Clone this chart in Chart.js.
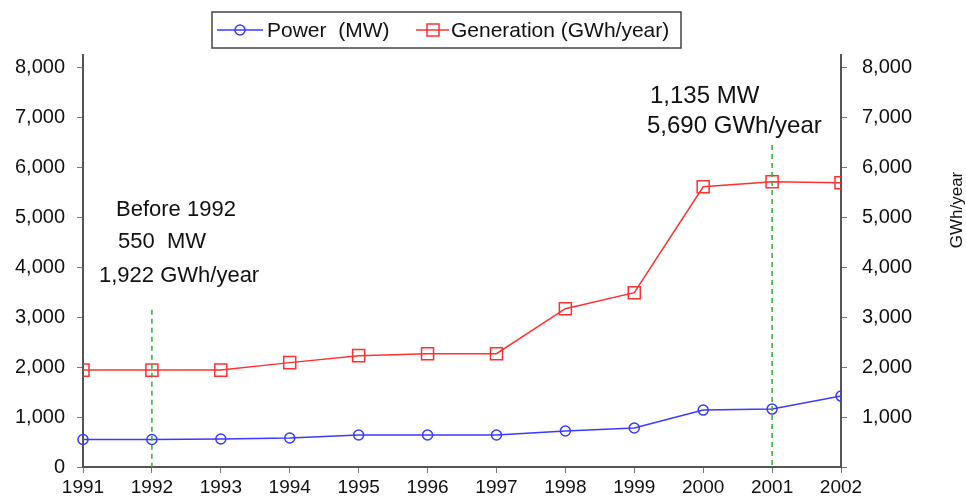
<!DOCTYPE html>
<html>
<head>
<meta charset="utf-8">
<script src="https://cdn.jsdelivr.net/npm/chart.js@4/dist/chart.umd.min.js"></script>
<style>
  html, body { margin: 0; padding: 0; background: #fff; }
  #wrap { width: 966px; height: 497px; }
</style>
</head>
<body>
<div id="wrap"><canvas id="windChart" width="966" height="497"></canvas></div>
<script>
const years = ['1991', '1992', '1993', '1994', '1995', '1996', '1997', '1998', '1999', '2000', '2001', '2002'];
const powerMW = [550, 550, 560, 580, 640, 640, 640, 720, 780, 1140, 1160, 1420];
const generationGWh = [1940, 1940, 1940, 2090, 2230, 2270, 2270, 3170, 3490, 5610, 5710, 5690];
const yTickValues = [0, 1000, 2000, 3000, 4000, 5000, 6000, 7000, 8000];
const markerYears = ['1992', '2001'];
const markerTops = [3150, 6450];

const FONT = '"Liberation Sans", Arial, sans-serif';
const BLUE = '#3a3aff';
const RED = '#ff3030';

function fmt(v) { return Number(v).toLocaleString('en-US'); }
function keepTicks(scale) {
    scale.ticks = yTickValues.map(v => ({ value: v }));
}

// legend box, notes and the green marker lines
const extras = {
    id: 'extras',
    afterDatasetsDraw(chart) {
        const ctx = chart.ctx;
        const x = chart.scales.x, y = chart.scales.y;
        ctx.save();
        ctx.strokeStyle = '#2fae2f';
        ctx.lineWidth = 1.5;
        ctx.setLineDash([5, 4]);
        markerYears.forEach((yr, i) => {
            const px = x.getPixelForValue(years.indexOf(yr));
            ctx.beginPath();
            ctx.moveTo(px, y.getPixelForValue(markerTops[i]));
            ctx.lineTo(px, y.getPixelForValue(0));
            ctx.stroke();
        });
        ctx.restore();
    },
    afterDraw(chart) {
        const ctx = chart.ctx;
        ctx.save();
        // legend
        ctx.strokeStyle = '#444';
        ctx.lineWidth = 1.5;
        ctx.strokeRect(212, 12, 469, 36);
        ctx.strokeStyle = BLUE;
        ctx.beginPath(); ctx.moveTo(217, 30); ctx.lineTo(263, 30); ctx.stroke();
        ctx.beginPath(); ctx.arc(240, 30, 5, 0, Math.PI * 2); ctx.stroke();
        ctx.strokeStyle = RED;
        ctx.beginPath(); ctx.moveTo(416, 30); ctx.lineTo(449, 30); ctx.stroke();
        ctx.strokeRect(427, 24, 12, 12);
        ctx.fillStyle = '#111';
        ctx.font = '21px ' + FONT;
        ctx.textBaseline = 'middle';
        ctx.fillText('Power  (MW)', 267, 31);
        ctx.fillText('Generation (GWh/year)', 451, 31);

        // notes
        ctx.textBaseline = 'alphabetic';
        ctx.font = '22px ' + FONT;
        ctx.fillText('Before 1992', 116, 216);
        ctx.fillText('550  MW', 118, 248);
        ctx.fillText('1,922 GWh/year', 99, 282);
        ctx.font = '24px ' + FONT;
        ctx.fillText('1,135 MW', 650, 103);
        ctx.fillText('5,690 GWh/year', 647, 133);

        // right axis title
        ctx.font = '17px ' + FONT;
        ctx.translate(957, 210);
        ctx.rotate(-Math.PI / 2);
        ctx.textAlign = 'center';
        ctx.textBaseline = 'middle';
        ctx.fillText('GWh/year', 0, 0);
        ctx.restore();
    }
};

const xFont = { family: FONT, size: 19 };
const yFont = { family: FONT, size: 20 };
const axisGrid = { drawOnChartArea: false, drawTicks: true, tickLength: 6, color: '#777' };
const axisBorder = { display: true, color: '#555', width: 2 };

new Chart(document.getElementById('windChart').getContext('2d'), {
    type: 'line',
    data: {
        labels: years,
        datasets: [{
            label: 'Power  (MW)',
            data: powerMW,
            yAxisID: 'y',
            borderColor: BLUE,
            borderWidth: 1.5,
            pointStyle: 'circle',
            pointRadius: 5,
            pointBorderWidth: 1.5,
            pointBorderColor: BLUE,
            pointBackgroundColor: 'rgba(0,0,0,0)',
            clip: { left: false, top: false, right: 0, bottom: false },
            tension: 0
        }, {
            label: 'Generation (GWh/year)',
            data: generationGWh,
            yAxisID: 'y2',
            borderColor: RED,
            borderWidth: 1.5,
            pointStyle: 'rect',
            pointRadius: 8.5,
            pointBorderWidth: 1.5,
            pointBorderColor: RED,
            pointBackgroundColor: 'rgba(0,0,0,0)',
            clip: { left: 0, top: false, right: 0, bottom: false },
            tension: 0
        }]
    },
    options: {
        responsive: false,
        animation: false,
        devicePixelRatio: 1,
        layout: { padding: { top: 55, left: 0, right: 0, bottom: 0 } },
        plugins: { legend: { display: false }, tooltip: { enabled: false } },
        scales: {
            x: {
                type: 'category',
                offset: false,
                grid: axisGrid,
                border: axisBorder,
                ticks: { font: xFont, color: '#111', padding: 3, maxRotation: 0, autoSkip: false },
                afterFit(s) { s.height = 30; }
            },
            y: {
                position: 'left',
                min: 0,
                max: 8250,
                grid: axisGrid,
                border: axisBorder,
                ticks: { font: yFont, color: '#111', padding: 12, callback: v => fmt(v) },
                afterBuildTicks: keepTicks,
                afterFit(s) { s.width = 83; }
            },
            y2: {
                position: 'right',
                min: 0,
                max: 8250,
                grid: axisGrid,
                border: axisBorder,
                ticks: { font: yFont, color: '#111', padding: 15, callback: v => v === 0 ? '' : fmt(v) },
                afterBuildTicks: keepTicks,
                afterFit(s) { s.width = 125; }
            }
        }
    },
    plugins: [extras]
});
</script>
</body>
</html>
